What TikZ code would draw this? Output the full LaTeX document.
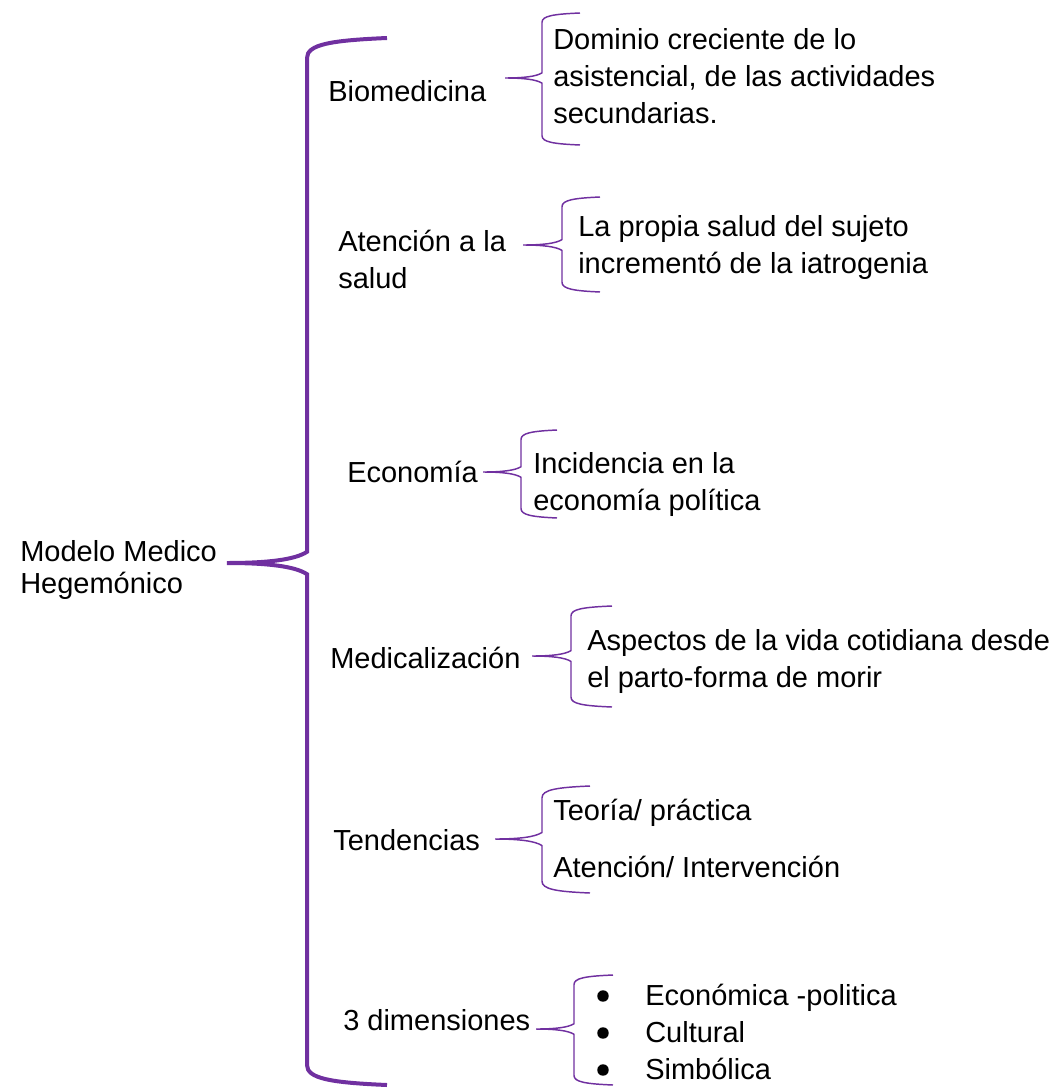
\documentclass[tikz,border=0pt]{standalone}
\usepackage{fontspec}
\setmainfont{Liberation Sans}
\usepackage{xcolor}
\definecolor{brpurple}{HTML}{7030A0}
\usetikzlibrary{positioning}

\tikzset{
 lbl/.style={anchor=base west,align=left,inner sep=0pt,font=\fontsize{21.75}{27.4}\selectfont},
 dot/.style={circle,fill=black,inner sep=0pt,minimum size=8.6pt},
 bigbr/.style={brpurple,line width=3pt},
 smallbr/.style={brpurple,line width=1.1pt},
 % stem offset, height above tip, depth below tip, arm length
 pics/grpbrace/.style n args={4}{code={
   \draw (#1+#4,-#2) .. controls (#1+0.3*#4,-#2+0.03*#1) and (#1,-#2+0.08*#1) .. (#1,-#2+0.25*#1)
     -- (#1,-0.14*#1) .. controls (0.85*#1,-0.04*#1) and (0.5*#1,0) .. (0,0)
     .. controls (0.5*#1,0) and (0.85*#1,0.04*#1) .. (#1,0.14*#1)
     -- (#1,#3-0.25*#1) .. controls (#1,#3-0.08*#1) and (#1+0.3*#4,#3-0.03*#1) .. (#1+#4,#3);
 }},
}

\begin{document}
\begin{tikzpicture}[x=0.75pt,y=-0.75pt]
\useasboundingbox (0,0) rectangle (1059,1088);

% multi-line labels sit on the baseline of their last line
\node[lbl,font=\fontsize{21.75}{24}\selectfont] (modelo) at (20,593) {Modelo Medico\\Hegemónico};
\coordinate (modelo-tip) at (227,563);
\pic[bigbr] at (modelo-tip) {grpbrace={80}{525}{522}{80}};

% first level
\node[lbl] (bio) at (328,102) {Biomedicina};
\node[lbl] (aten) at (338,288) {Atención a la\\salud};
\node[lbl] (eco) at (347,482) {Economía};
\node[lbl] (medi) at (330,668) {Medicalización};
\node[lbl] (tend) at (333,850) {Tendencias};
\node[lbl] (dim) at (343,1030) {3 dimensiones};

\coordinate (bio-tip) at (505,78);
\coordinate (aten-tip) at (523,245);
\coordinate (eco-tip) at (483,472);
\coordinate (medi-tip) at (532,656);
\coordinate (tend-tip) at (495,839);
\coordinate (dim-tip) at (536,1029);

\pic[smallbr] at (bio-tip) {grpbrace={37}{65}{67}{38}};
\pic[smallbr] at (aten-tip) {grpbrace={39}{48}{47}{38}};
\pic[smallbr] at (eco-tip) {grpbrace={38}{42}{46}{36}};
\pic[smallbr] at (medi-tip) {grpbrace={39}{50}{51}{41}};
\pic[smallbr] at (tend-tip) {grpbrace={47}{53}{54}{48}};
\pic[smallbr] at (dim-tip) {grpbrace={38}{54}{56}{39}};

% second level
\node[lbl] (bio-a) at (553,123) {Dominio creciente de lo\\asistencial, de las actividades\\secundarias.};
\node[lbl] (aten-a) at (578,273) {La propia salud del sujeto\\incrementó de la iatrogenia};
\node[lbl] (eco-a) at (533,510) {Incidencia en la\\economía política};
\node[lbl] (medi-a) at (587,687) {Aspectos de la vida cotidiana desde\\el parto-forma de morir};
\node[lbl] (tend-a) at (553,820) {Teoría/ práctica};
\node[lbl] (tend-b) at (553,877) {Atención/ Intervención};

\foreach \t/\y [count=\i] in {Económica -politica/1005,Cultural/1042,Simbólica/1079}{
  \node[dot] (dim-b\i) at (603,\y-9) {};
  \node[lbl] (dim-\i) at (645,\y) {\t};
}
\end{tikzpicture}
\end{document}
